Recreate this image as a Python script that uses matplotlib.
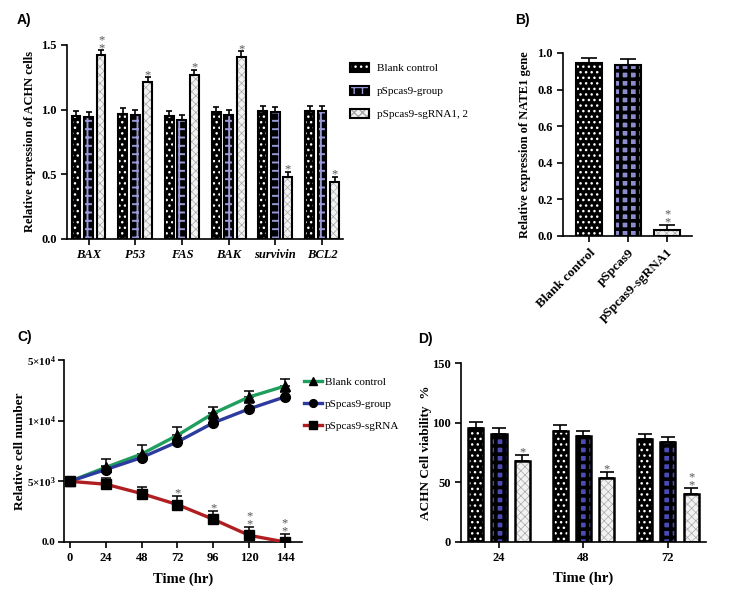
import numpy as np
import matplotlib
matplotlib.use('Agg')
from matplotlib import pyplot as plt

plt.rcParams['font.family'] = ['Liberation Serif', 'DejaVu Serif']
plt.rcParams['mathtext.fontset'] = 'custom'
plt.rcParams['mathtext.rm'] = 'Liberation Serif'
plt.rcParams['mathtext.default'] = 'regular'
plt.rcParams['axes.linewidth'] = 1.2

# ---- data ----
genes = ['BAX', 'P53', 'FAS', 'BAK', 'survivin', 'BCL2']
a_groups = ['Blank control', 'pSpcas9-group', 'pSpcas9-sgRNA1, 2']
a_blank = [0.95, 0.97, 0.95, 0.98, 0.99, 0.99]
a_cas9 = [0.94, 0.96, 0.92, 0.96, 0.98, 0.99]
a_sg = [1.42, 1.21, 1.27, 1.41, 0.48, 0.44]
a_err_blank = [0.04, 0.04, 0.04, 0.04, 0.04, 0.04]
a_err_cas9 = [0.04, 0.04, 0.04, 0.04, 0.04, 0.04]
a_err_sg = [0.04, 0.04, 0.04, 0.04, 0.04, 0.04]
a_stars = ['*\n*', '*', '*', '*', '*', '*']

b_labels = ['Blank control', 'pSpcas9', 'pSpcas9-sgRNA1']
b_vals = [0.945, 0.935, 0.03]
b_err = [0.03, 0.03, 0.03]

c_time = [0, 24, 48, 72, 96, 120, 144]
c_blank = [5000, 6150, 7250, 8800, 10600, 11950, 12850]
c_cas9 = [5000, 5970, 6960, 8250, 9820, 10970, 11960]
c_sg = [5000, 4760, 3990, 3080, 1870, 550, 0]
c_err_blank = [0, 700, 740, 640, 560, 520, 550]
c_err_cas9 = [0, 300, 300, 350, 300, 480, 440]
c_err_sg = [0, 550, 550, 720, 690, 690, 630]
c_stars = ['', '', '', '*', '*', '*\n*', '*\n*']
c_names = ['Blank control', 'pSpcas9-group', 'pSpcas9-sgRNA']

d_time = ['24', '48', '72']
d_blank = [95.5, 93.2, 86.2]
d_cas9 = [90.7, 88.7, 83.7]
d_sg = [67.7, 53.6, 40.2]
d_err_blank = [4.8, 4.5, 4.5]
d_err_cas9 = [4.5, 4.5, 4.5]
d_err_sg = [5.0, 5.0, 5.0]
d_stars = ['*', '*', '*\n*']

star_color = '#555555'
grey_face, grey_hatch = '#f2f2f2', '#a8a8a8'


def hatched_bars(ax, x, h, w, face, hatch, hcolor, err, capsize, hlw=1.0, edge_lw=1.5):
    fill = ax.bar(x, h, w, color=face, edgecolor=hcolor, hatch=hatch, linewidth=0, zorder=2)
    for p in fill:
        try:
            p.set_hatch_linewidth(hlw)
        except AttributeError:
            pass
    edge = ax.bar(x, h, w, fill=False, edgecolor='black', linewidth=edge_lw, zorder=3,
                  yerr=[np.zeros(len(err)), err], capsize=capsize,
                  error_kw=dict(elinewidth=1.2, capthick=1.2, ecolor='black', zorder=1))
    return fill[0], edge[0]


def add_stars(ax, x, tops, stars, pad, fs=9):
    for xi, t, s in zip(x, tops, stars):
        if s:
            ax.text(xi, t + pad, s, ha='center', va='bottom', fontsize=fs,
                    color=star_color, linespacing=0.55)


def style(ax, size=9):
    ax.spines['top'].set_visible(False)
    ax.spines['right'].set_visible(False)
    ax.tick_params(direction='out', length=4, width=1.2, labelsize=size)
    for lab in ax.get_yticklabels() + ax.get_xticklabels():
        lab.set_fontweight('bold')


fig = plt.figure(figsize=(7.44, 6.12), dpi=100)

# ---- A ----
axA = fig.add_axes([0.0901, 0.6095, 0.3710, 0.3170])
xa = np.arange(len(genes))
off, bw = 0.268, 0.19
hA1 = hatched_bars(axA, xa - off, a_blank, bw, 'black', '...', 'white', a_err_blank, 2.5)
hA2 = hatched_bars(axA, xa, a_cas9, bw, 'black', '++', '#9a9ad8', a_err_cas9, 2.5, hlw=1.4)
hA3 = hatched_bars(axA, xa + off, a_sg, bw, grey_face, 'xxxx', grey_hatch, a_err_sg, 2.5, hlw=0.5)
add_stars(axA, xa + off, np.array(a_sg) + np.array(a_err_sg), a_stars, -0.03)
axA.set_xlim(-0.46, 5.45)
axA.set_ylim(0, 1.5)
axA.set_yticks([0, 0.5, 1.0, 1.5])
axA.set_xticks(xa)
axA.set_xticklabels(genes, fontstyle='italic')
style(axA)
axA.set_ylabel('Relative expression of ACHN cells', fontsize=9, fontweight='bold')
axA.yaxis.set_label_coords(-0.112, 0.5)
fig.legend([hA1, hA2, hA3], a_groups, loc='upper left', bbox_to_anchor=(350 / 744, 1 - 63 / 612),
           frameon=False, fontsize=8, handlelength=1.7, handleheight=0.85, handletextpad=0.7,
           labelspacing=1.15, borderpad=0, borderaxespad=0)

# ---- B ----
axB = fig.add_axes([0.7567, 0.6144, 0.1734, 0.2990])
xb = np.arange(len(b_labels))
hatched_bars(axB, xb[:1], b_vals[:1], 0.65, 'black', '...', 'white', b_err[:1], 5.5)
hatched_bars(axB, xb[1:2], b_vals[1:2], 0.65, '#8c8ccc', '++', 'black', b_err[1:2], 5.5, hlw=2.6)
hatched_bars(axB, xb[2:], b_vals[2:], 0.65, grey_face, 'xxxx', grey_hatch, b_err[2:], 5.5, hlw=0.5)
add_stars(axB, xb[2:], [b_vals[2] + b_err[2]], ['*\n*'], -0.02)
axB.set_xlim(-0.67, 2.64)
axB.set_ylim(0, 1.0)
axB.set_yticks([0, 0.2, 0.4, 0.6, 0.8, 1.0])
axB.set_xticks(xb)
axB.set_xticklabels(b_labels, rotation=45, ha='right', rotation_mode='anchor')
style(axB)
axB.tick_params(axis='x', labelsize=9.5)
axB.set_ylabel('Relative expression of NATE1 gene', fontsize=9, fontweight='bold')
axB.yaxis.set_label_coords(-0.25, 0.5)

# ---- C ----
axC = fig.add_axes([0.0860, 0.1144, 0.3199, 0.2974])
series = [(c_blank, c_err_blank, '#1f9e5e', '^'),
          (c_cas9, c_err_cas9, '#2e3b9e', 'o'),
          (c_sg, c_err_sg, '#b01e22', 's')]
for (vals, err, col, mk), name in zip(series, c_names):
    axC.errorbar(c_time, vals, yerr=[np.zeros(len(err)), err], fmt='none', ecolor='black',
                 elinewidth=1.1, capsize=3.5, capthick=1.1, zorder=2)
    axC.plot(c_time, vals, color=col, lw=2.4, marker=mk, ms=7, mfc='black', mec='black',
             label=name, zorder=3)
add_stars(axC, c_time, np.array(c_sg) + np.array(c_err_sg), c_stars, -250)
axC.set_xlim(-4, 155.4)
axC.set_ylim(0, 15000)
axC.set_xticks(c_time)
axC.set_yticks([0, 5000, 10000, 15000])
axC.set_yticklabels(['0.0', '5×10$^{3}$', '1×10$^{4}$', '5×10$^{4}$'])
style(axC)
axC.tick_params(axis='y', labelsize=8, pad=2)
axC.set_ylabel('Relative cell number', fontsize=9.5, fontweight='bold')
axC.yaxis.set_label_coords(-0.16, 0.5)
axC.set_xlabel('Time (hr)', fontsize=10.5, fontweight='bold')
axC.xaxis.set_label_coords(0.5, -0.165)
fig.legend(*axC.get_legend_handles_labels(), loc='upper left',
           bbox_to_anchor=(304 / 744, 1 - 377 / 612), frameon=False, fontsize=8,
           handlelength=1.6, handletextpad=0.3, labelspacing=1.1, markerscale=0.8,
           borderpad=0, borderaxespad=0)

# ---- D ----
axD = fig.add_axes([0.6196, 0.1149, 0.3293, 0.2915])
xd = np.arange(len(d_time))
offd, bwd = 0.277, 0.178
hatched_bars(axD, xd - offd, d_blank, bwd, 'black', '...', 'white', d_err_blank, 4.8, edge_lw=1.8)
hatched_bars(axD, xd, d_cas9, bwd, '#4b4bb5', '++', 'black', d_err_cas9, 4.8, hlw=2.6, edge_lw=1.8)
hatched_bars(axD, xd + offd, d_sg, bwd, grey_face, 'xxxx', grey_hatch, d_err_sg, 4.8, hlw=0.5, edge_lw=1.8)
add_stars(axD, xd + offd, np.array(d_sg) + np.array(d_err_sg), d_stars, -3)
axD.set_xlim(-0.45, 2.45)
axD.set_ylim(0, 150)
axD.set_yticks([0, 50, 100, 150])
axD.set_xticks(xd)
axD.set_xticklabels(d_time)
style(axD)
axD.set_ylabel('ACHN Cell viability  %', fontsize=9.5, fontweight='bold')
axD.yaxis.set_label_coords(-0.118, 0.5)
axD.set_xlabel('Time (hr)', fontsize=10.5, fontweight='bold')
axD.xaxis.set_label_coords(0.5, -0.17)

# ---- panel letters ----
for txt, px, py in [('A)', 17, 20), ('B)', 515, 20), ('C)', 17, 337), ('D)', 418, 339)]:
    fig.text(px / 744, 1 - py / 612, txt, fontsize=10, fontweight='bold',
             family=['Liberation Sans', 'DejaVu Sans'], va='center', ha='left')

fig.savefig('out.png', dpi=100)
